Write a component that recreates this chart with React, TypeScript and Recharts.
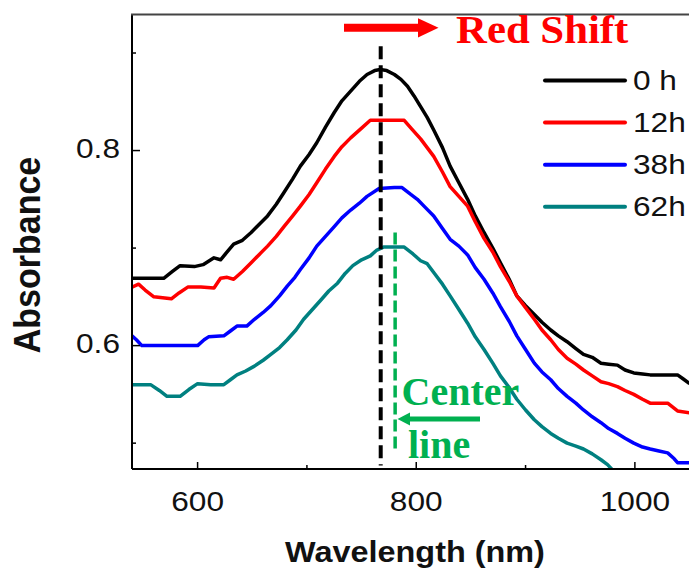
import React from 'react';
import { LineChart, Line, XAxis, YAxis, ReferenceLine } from 'recharts';

// ---------- data ----------
const wl0h = [540, 556, 569, 577, 584, 597, 605, 615, 621, 627, 633, 641, 649, 656, 664, 672, 679, 687, 694, 702, 709, 717, 725, 732, 740, 748, 755, 762, 767, 773, 780, 786, 792, 798, 804, 810, 816, 824, 831, 839, 847, 854, 862, 870, 877, 885, 892, 900, 908, 915, 923, 930, 938, 946, 953, 961, 969, 976, 984, 991, 999, 1007, 1014, 1039, 1044, 1050];
const abs0h = [0.669, 0.669, 0.669, 0.676, 0.682, 0.681, 0.683, 0.690, 0.688, 0.696, 0.704, 0.708, 0.716, 0.724, 0.733, 0.745, 0.757, 0.771, 0.784, 0.796, 0.808, 0.824, 0.839, 0.851, 0.861, 0.871, 0.878, 0.882, 0.883, 0.882, 0.878, 0.873, 0.866, 0.856, 0.845, 0.834, 0.821, 0.803, 0.784, 0.767, 0.750, 0.733, 0.716, 0.700, 0.685, 0.668, 0.651, 0.641, 0.632, 0.624, 0.616, 0.610, 0.604, 0.597, 0.591, 0.588, 0.582, 0.581, 0.580, 0.575, 0.572, 0.571, 0.570, 0.570, 0.566, 0.561];

const wl12h = [540, 546, 552, 560, 568, 576, 583, 591, 603, 615, 621, 627, 633, 641, 649, 656, 664, 672, 679, 687, 694, 702, 709, 717, 725, 732, 740, 749, 758, 789, 796, 804, 810, 816, 824, 831, 839, 847, 854, 862, 870, 877, 885, 892, 900, 908, 915, 923, 930, 938, 946, 953, 961, 969, 976, 984, 991, 999, 1007, 1014, 1030, 1039, 1050];
const abs12h = [0.660, 0.663, 0.657, 0.650, 0.649, 0.648, 0.654, 0.660, 0.660, 0.659, 0.669, 0.670, 0.668, 0.676, 0.685, 0.693, 0.702, 0.712, 0.722, 0.733, 0.743, 0.755, 0.767, 0.781, 0.794, 0.804, 0.813, 0.822, 0.831, 0.831, 0.822, 0.812, 0.803, 0.794, 0.778, 0.763, 0.753, 0.743, 0.727, 0.710, 0.696, 0.681, 0.666, 0.651, 0.639, 0.627, 0.616, 0.606, 0.596, 0.587, 0.581, 0.575, 0.569, 0.563, 0.561, 0.558, 0.554, 0.550, 0.545, 0.541, 0.541, 0.533, 0.531];

const wl38h = [540, 544, 549, 575, 600, 606, 610, 624, 630, 636, 645, 652, 660, 667, 675, 682, 689, 694, 702, 709, 717, 725, 732, 740, 748, 755, 766, 780, 787, 795, 801, 808, 816, 824, 831, 839, 847, 854, 862, 870, 877, 885, 892, 900, 908, 915, 923, 930, 938, 946, 953, 961, 969, 976, 984, 991, 999, 1007, 1014, 1022, 1030, 1036, 1039, 1050];
const abs38h = [0.610, 0.606, 0.600, 0.600, 0.600, 0.606, 0.609, 0.610, 0.615, 0.620, 0.620, 0.627, 0.634, 0.641, 0.651, 0.661, 0.670, 0.678, 0.690, 0.702, 0.712, 0.722, 0.731, 0.739, 0.746, 0.753, 0.761, 0.762, 0.762, 0.755, 0.750, 0.742, 0.733, 0.720, 0.709, 0.702, 0.693, 0.680, 0.668, 0.654, 0.640, 0.625, 0.610, 0.596, 0.582, 0.573, 0.565, 0.556, 0.548, 0.541, 0.534, 0.527, 0.521, 0.515, 0.510, 0.505, 0.500, 0.496, 0.494, 0.492, 0.490, 0.484, 0.480, 0.480];

const wl62h = [540, 557, 565, 572, 584, 592, 600, 612, 624, 630, 636, 644, 652, 660, 667, 675, 682, 690, 697, 705, 713, 720, 728, 735, 742, 750, 758, 764, 770, 789, 797, 804, 810, 816, 824, 831, 839, 847, 854, 862, 870, 877, 885, 892, 900, 908, 915, 923, 930, 938, 946, 953, 961, 969, 975, 980, 990];
const abs62h = [0.560, 0.560, 0.554, 0.548, 0.548, 0.555, 0.561, 0.560, 0.560, 0.565, 0.570, 0.574, 0.579, 0.585, 0.591, 0.598, 0.606, 0.616, 0.627, 0.637, 0.647, 0.656, 0.664, 0.674, 0.682, 0.688, 0.692, 0.698, 0.701, 0.701, 0.694, 0.687, 0.684, 0.675, 0.663, 0.651, 0.637, 0.623, 0.609, 0.596, 0.582, 0.569, 0.557, 0.545, 0.534, 0.524, 0.517, 0.510, 0.505, 0.500, 0.497, 0.494, 0.489, 0.483, 0.478, 0.472, 0.462];

const seriesNames = ['0 h', '12h', '38h', '62h'];
const seriesColors = ['#000000', '#ff0000', '#0000ff', '#008080'];

const xTicks = [600, 700, 800, 900, 1000];
const xLabeled = [600, 800, 1000];
const yTicks = [0.5, 0.6, 0.7, 0.8, 0.9];
const yLabeled = [0.6, 0.8];
const xDomain = [540, 1049.5];
const yDomain = [0.4735, 0.94];

const centerLineBlack = 767.5;
const centerLineGreen = 780.7;

const toRows = (wl: number[], ab: number[]) => wl.map((w, i) => ({ wl: w, a: ab[i] }));
const seriesData = [toRows(wl0h, abs0h), toRows(wl12h, abs12h), toRows(wl38h, abs38h), toRows(wl62h, abs62h)];

const SANS = 'Liberation Sans, Arial, sans-serif';
const SERIF = 'Liberation Serif, Times New Roman, serif';
const GREEN = '#00b050';

const XTick = (props: any) => {
  const { x, y, payload } = props;
  const major = xLabeled.includes(payload.value);
  return (
    <g>
      <line x1={x} y1={y} x2={x} y2={y - (major ? 7 : 4)} stroke="#000" strokeWidth={1.5} />
      {major && (
        <text transform={`translate(${x},${y + 42}) scale(1.13,1)`} textAnchor="middle" fontFamily={SANS} fontSize={28} fill="#111">
          {payload.value}
        </text>
      )}
    </g>
  );
};

const YTick = (props: any) => {
  const { x, y, payload } = props;
  const major = yLabeled.includes(payload.value);
  return (
    <g>
      <line x1={x} y1={y} x2={x + (major ? 8 : 4)} y2={y} stroke="#000" strokeWidth={1.5} />
      {major && (
        <text transform={`translate(${x - 12},${y + 7}) scale(1.13,1)`} textAnchor="end" fontFamily={SANS} fontSize={28} fill="#111">
          {String(payload.value)}
        </text>
      )}
    </g>
  );
};

export default function App() {
  return (
    <div style={{ position: 'absolute', left: 0, top: 0, width: 689, height: 570, background: '#fff' }}>
      <LineChart width={689} height={570} data={seriesData[0]} margin={{ top: 14, right: 0, left: 0, bottom: 0 }}>
        <XAxis
          dataKey="wl"
          type="number"
          domain={xDomain}
          ticks={xTicks}
          allowDataOverflow
          height={101}
          tickSize={0}
          tickMargin={0}
          tickLine={false}
          axisLine={{ stroke: '#000', strokeWidth: 2 }}
          tick={<XTick />}
          interval={0}
        />
        <YAxis
          type="number"
          domain={yDomain}
          ticks={yTicks}
          allowDataOverflow
          width={132}
          tickSize={0}
          tickMargin={0}
          tickLine={false}
          axisLine={{ stroke: '#000', strokeWidth: 2 }}
          tick={<YTick />}
          interval={0}
        />
        {seriesData.map((d, i) => (
          <Line
            key={seriesNames[i]}
            data={d}
            dataKey="a"
            name={seriesNames[i]}
            type="linear"
            stroke={seriesColors[i]}
            strokeWidth={3.5}
            strokeLinejoin="round"
            dot={false}
            isAnimationActive={false}
          />
        ))}
        <ReferenceLine
          segment={[{ x: centerLineBlack, y: 0.907 }, { x: centerLineBlack, y: 0.477 }]}
          stroke="#000"
          strokeWidth={4}
          strokeDasharray="13 6"
        />
        <ReferenceLine
          segment={[{ x: centerLineGreen, y: 0.716 }, { x: centerLineGreen, y: 0.491 }]}
          stroke={GREEN}
          strokeWidth={3.5}
          strokeDasharray="12 5"
        />
      </LineChart>
      <svg width={689} height={570} style={{ position: 'absolute', left: 0, top: 0, pointerEvents: 'none' }}>
        {/* top frame line */}
        <line x1={131} y1={14.5} x2={689} y2={14.5} stroke="#444" strokeWidth={2} />
        {/* axis titles */}
        <text transform="translate(40,255) scale(1.1,1) rotate(-90)" textAnchor="middle" fontFamily={SANS} fontWeight="bold" fontSize={34} fill="#111">
          Absorbance
        </text>
        <text transform="translate(415,561.5) scale(1.08,1)" textAnchor="middle" fontFamily={SANS} fontWeight="bold" fontSize={30} fill="#111">
          Wavelength (nm)
        </text>
        {/* legend */}
        {seriesNames.map((n, i) => {
          const ly = 80.5 + i * 42.1;
          return (
            <g key={n}>
              <line x1={545} y1={ly} x2={625} y2={ly} stroke={seriesColors[i]} strokeWidth={4} strokeLinecap="round" />
              <text transform={`translate(633,${ly + 9.5}) scale(1.13,1)`} fontFamily={SANS} fontSize={28} fill="#111">
                {n}
              </text>
            </g>
          );
        })}
        {/* red shift annotation */}
        <line x1={344} y1={27.7} x2={420} y2={27.7} stroke="#ff0000" strokeWidth={8} />
        <polygon points="418,18.3 438.5,27.7 418,37.5" fill="#ff0000" />
        <text transform="translate(456,43.3) scale(1.07,1)" fontFamily={SERIF} fontWeight="bold" fontSize={40} fill="#ff0000">
          Red Shift
        </text>
        {/* center line annotation */}
        <text x={401.5} y={405} fontFamily={SERIF} fontWeight="bold" fontSize={40} fill={GREEN}>
          Center
        </text>
        <line x1={406} y1={419} x2={480} y2={419} stroke={GREEN} strokeWidth={5} />
        <polygon points="410,412.5 397.5,419 410,425.5" fill={GREEN} />
        <text x={408} y={458} fontFamily={SERIF} fontWeight="bold" fontSize={40} fill={GREEN}>
          line
        </text>
      </svg>
    </div>
  );
}
